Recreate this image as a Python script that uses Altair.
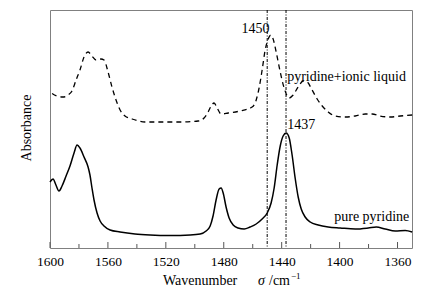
import altair as alt
import pandas as pd

# pyridine + ionic liquid (dashed)
il_wn = [1600, 1595.2, 1591.0, 1587.6, 1584.8, 1582.0, 1579.3, 1576.5, 1573.7, 1571.0,
         1568.2, 1564.8, 1562.7, 1559.9, 1557.2, 1554.4, 1551.6, 1548.2, 1543.3, 1534.3,
         1524.0, 1510.2, 1497.7, 1493.6, 1490.8, 1488.7, 1486.7, 1484.6, 1481.8, 1477.0,
         1468.7, 1460.4, 1457.6, 1455.6, 1453.5, 1451.4, 1449.3, 1447.6, 1445.9, 1443.8,
         1441.0, 1438.3, 1434.8, 1432.1, 1428.6, 1425.2, 1422.4, 1419.0, 1415.5, 1412.0,
         1407.9, 1403.0, 1396.1, 1389.2, 1382.3, 1377.5, 1372.0, 1365.0, 1358.1, 1349.9]
il_abs = [1.56, 1.52, 1.51, 1.53, 1.57, 1.68, 1.78, 1.91, 1.96, 1.92,
          1.88, 1.89, 1.88, 1.76, 1.61, 1.48, 1.38, 1.32, 1.29, 1.26,
          1.26, 1.26, 1.27, 1.30, 1.36, 1.42, 1.45, 1.40, 1.34, 1.35,
          1.37, 1.41, 1.48, 1.60, 1.78, 1.98, 2.09, 2.13, 2.09, 1.96,
          1.76, 1.60, 1.50, 1.53, 1.61, 1.67, 1.66, 1.58, 1.49, 1.42,
          1.36, 1.32, 1.31, 1.32, 1.34, 1.34, 1.32, 1.31, 1.32, 1.33]

# pure pyridine (solid)
py_wn = [1600, 1597.9, 1595.9, 1593.8, 1591.7, 1588.9, 1586.2, 1583.4, 1581.3, 1579.3,
         1576.5, 1573.7, 1572.4, 1571.0, 1569.6, 1567.5, 1565.4, 1562.7, 1558.5, 1551.6,
         1541.3, 1530.9, 1517.1, 1503.2, 1496.3, 1492.2, 1489.4, 1487.4, 1485.3, 1483.2,
         1481.8, 1480.4, 1478.4, 1476.3, 1473.5, 1470.1, 1465.9, 1461.8, 1457.6, 1453.5,
         1450.0, 1447.3, 1445.2, 1443.1, 1441.0, 1439.0, 1436.9, 1434.8, 1432.8, 1430.7,
         1428.6, 1426.5, 1423.8, 1420.3, 1414.8, 1407.9, 1399.6, 1389.2, 1380.2, 1374.7,
         1368.5, 1361.6, 1354.7, 1349.9]
py_abs = [0.66, 0.69, 0.63, 0.57, 0.62, 0.72, 0.82, 0.95, 1.03, 1.00,
          0.91, 0.81, 0.73, 0.60, 0.48, 0.35, 0.27, 0.22, 0.18, 0.16,
          0.14, 0.13, 0.125, 0.13, 0.14, 0.17, 0.22, 0.32, 0.48, 0.59,
          0.60, 0.55, 0.41, 0.30, 0.23, 0.20, 0.19, 0.21, 0.24, 0.29,
          0.35, 0.45, 0.60, 0.83, 1.02, 1.12, 1.15, 1.10, 0.93, 0.70,
          0.51, 0.39, 0.31, 0.26, 0.23, 0.21, 0.20, 0.19, 0.20, 0.21,
          0.19, 0.17, 0.175, 0.16]

marker_wn = [1450, 1437]
major_ticks = [1600, 1560, 1520, 1480, 1440, 1400, 1360]
minor_ticks = [1580, 1540, 1500, 1460, 1420, 1380]

ann_text = ["1450", "pyridine+ionic liquid", "1437", "pure pyridine"]
ann_wn = [1448.4, 1436.2, 1436.2, 1351.9]
ann_abs = [2.15, 1.67, 1.19, 0.27]
ann_align = ["right", "left", "left", "right"]

FONT = "Liberation Serif, Times New Roman, serif"
W, H = 362, 238

xs = alt.Scale(domain=[1600, 1350], nice=False, zero=False)
ys = alt.Scale(domain=[0, 2.38], nice=False, zero=False)

df_il = pd.DataFrame({"wn": il_wn, "a": il_abs})
df_py = pd.DataFrame({"wn": py_wn, "a": py_abs})

xaxis = alt.Axis(values=major_ticks, ticks=False, domain=False, grid=False,
                 labelFont=FONT, labelFontSize=13.5, labelColor="black",
                 labelPadding=6, title=None, format="d", labelFlush=False)

il_line = alt.Chart(df_il).mark_line(color="black", strokeWidth=1.3,
                                     strokeDash=[5, 4], interpolate="monotone").encode(
    x=alt.X("wn:Q", scale=xs, axis=xaxis),
    y=alt.Y("a:Q", scale=ys, axis=None),
    order="wn:O",
)
py_line = alt.Chart(df_py).mark_line(color="black", strokeWidth=1.5,
                                     interpolate="monotone").encode(
    x=alt.X("wn:Q", scale=xs),
    y=alt.Y("a:Q", scale=ys),
)

markers = alt.Chart(pd.DataFrame({"wn": marker_wn})).mark_rule(
    color="black", strokeWidth=1, strokeDash=[3, 1.5, 1, 1.5]).encode(
    x=alt.X("wn:Q", scale=xs), y=alt.value(0), y2=alt.value(H))

maj = alt.Chart(pd.DataFrame({"wn": major_ticks})).mark_rule(
    color="#555555", strokeWidth=1).encode(
    x=alt.X("wn:Q", scale=xs), y=alt.value(H - 6), y2=alt.value(H))
mino = alt.Chart(pd.DataFrame({"wn": minor_ticks})).mark_rule(
    color="#555555", strokeWidth=1).encode(
    x=alt.X("wn:Q", scale=xs), y=alt.value(H - 4), y2=alt.value(H))

df_ann = pd.DataFrame({"t": ann_text, "wn": ann_wn, "a": ann_abs, "al": ann_align})
ann_r = alt.Chart(df_ann[df_ann.al == "right"]).mark_text(
    font=FONT, fontSize=14, align="right", baseline="alphabetic", color="black").encode(
    x=alt.X("wn:Q", scale=xs), y=alt.Y("a:Q", scale=ys), text="t:N")
ann_l = alt.Chart(df_ann[df_ann.al == "left"]).mark_text(
    font=FONT, fontSize=14, align="left", baseline="alphabetic", color="black").encode(
    x=alt.X("wn:Q", scale=xs), y=alt.Y("a:Q", scale=ys), text="t:N")

TY = 275
t_wave = alt.Chart(pd.DataFrame({"t": ["Wavenumber"]})).mark_text(
    font=FONT, fontSize=14, align="left", baseline="alphabetic", color="black").encode(
    x=alt.value(113), y=alt.value(TY), text="t:N")
t_sigma = alt.Chart(pd.DataFrame({"t": ["σ"]})).mark_text(
    font=FONT, fontSize=14, fontStyle="italic", align="left", baseline="alphabetic",
    color="black").encode(x=alt.value(208), y=alt.value(TY), text="t:N")
t_unit = alt.Chart(pd.DataFrame({"t": ["/cm"]})).mark_text(
    font=FONT, fontSize=14, align="left", baseline="alphabetic", color="black").encode(
    x=alt.value(219), y=alt.value(TY), text="t:N")
t_exp = alt.Chart(pd.DataFrame({"t": ["−1"]})).mark_text(
    font=FONT, fontSize=9, align="left", baseline="alphabetic", color="black").encode(
    x=alt.value(241), y=alt.value(TY - 6), text="t:N")
t_abs = alt.Chart(pd.DataFrame({"t": ["Absorbance"]})).mark_text(
    font=FONT, fontSize=14, angle=270, align="center", baseline="middle",
    color="black").encode(x=alt.value(-23), y=alt.value(118), text="t:N")

chart = alt.layer(
    il_line, py_line, markers, maj, mino, ann_r, ann_l,
    t_wave, t_sigma, t_unit, t_exp, t_abs
).properties(
    width=W, height=H,
    padding={"left": 42, "top": 2, "right": 4, "bottom": 40},
    autosize=alt.AutoSizeParams(type="none"),
    background="white",
).configure_view(stroke="#808080", strokeWidth=1)

chart.save("out.html", embed_options={"renderer": "svg", "actions": False})
